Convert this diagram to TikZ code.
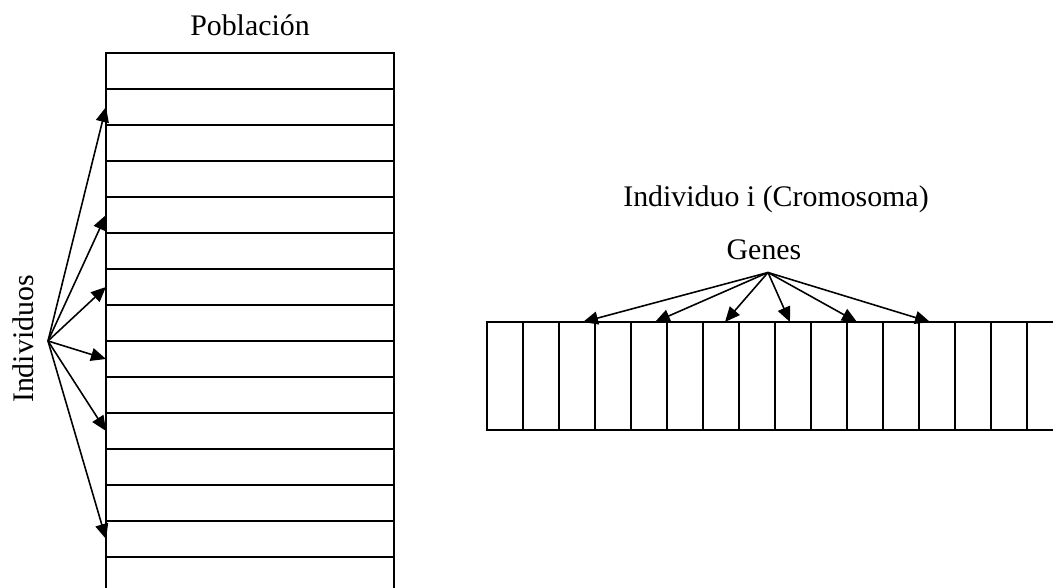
\documentclass[tikz,border=0pt]{standalone}
\usepackage{fontspec}
\setmainfont{Liberation Serif}
\usetikzlibrary{arrows.meta}
\tikzset{
  cell/.style={line width=1.1pt, line cap=rect},
  fan/.style={line width=0.9pt, -{Triangle[length=0.3cm,width=0.26cm]}},
  lbl/.style={font=\fontsize{17}{20}\selectfont, inner sep=0pt, anchor=base}
}
\begin{document}
\begin{tikzpicture}
\useasboundingbox (0,0) rectangle (21.06,11.76);
\clip (0,0) rectangle (21.06,11.76);

% poblacion
\draw[cell] (2.12,-0.2) rectangle (7.88,10.7);
\foreach \k in {1,...,14}
  \draw[cell] (2.12,10.7-0.72*\k) -- (7.88,10.7-0.72*\k);
\node[lbl] (pob) at (5.0,11.04) {Población};

% individuos
\node[lbl, rotate=90] (ind) at (0.66,4.98) {Individuos};
\coordinate (src) at (0.96,4.94);
\foreach \k in {2,5,7,9,11,14}
  \coordinate (r\k) at (2.12,10.7-0.72*\k+0.36);
\foreach \k in {2,5,7,9,11,14}
  \draw[fan] (src) -- (r\k);

% cromosoma
\draw[cell] (21.3,5.32) -- (9.74,5.32) -- (9.74,3.16) -- (21.3,3.16);
\foreach \k in {1,...,15}
  \draw[cell] (9.74+0.72*\k,3.16) -- (9.74+0.72*\k,5.32);
\node[lbl] (crom) at (15.52,7.63) {Individuo i (Cromosoma)};
\node[lbl] (genes) at (15.28,6.56) {Genes};
\coordinate (gsrc) at (15.36,6.31);
\foreach \x [count=\i] in {11.66,13.1,14.5,15.8,17.14,18.6}
  \coordinate (g\i) at (\x,5.32);
\foreach \i in {1,...,6}
  \draw[fan] (gsrc) -- (g\i);
\end{tikzpicture}
\end{document}
